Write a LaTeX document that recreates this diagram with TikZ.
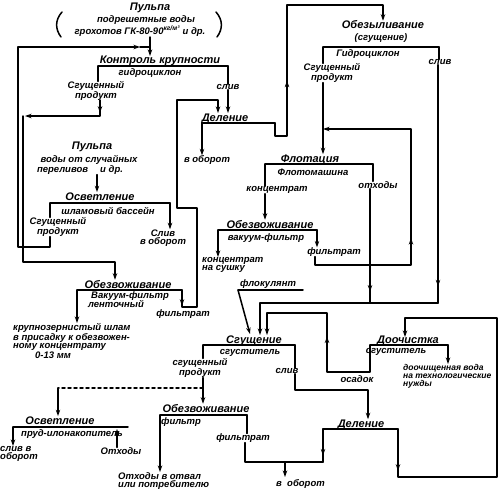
\documentclass[tikz,border=0pt]{standalone}
\usepackage{fontspec}
\setmainfont{Liberation Sans}
\usetikzlibrary{arrows.meta,decorations.markings}

\tikzset{
  flow/.style={line width=1.5pt},
  lbl/.style={font=\fontsize{9.5}{8.5}\selectfont\bfseries\itshape, inner sep=0pt, align=center},
  ttl/.style={font=\fontsize{11}{11}\selectfont\bfseries\itshape, inner sep=0pt},
  sml/.style={font=\fontsize{8.5}{8}\selectfont\bfseries\itshape, inner sep=0pt, align=left},
  arrat/.style={postaction={decorate},
    decoration={markings, mark=at position #1 with {\arrow{Stealth[length=6.5pt,width=4.5pt]}}}},
}

\begin{document}
\begin{tikzpicture}[x=1pt, y=-1pt, line join=round, line cap=round, >={Stealth[length=6.5pt,width=4.5pt]}]
  \useasboundingbox (0,0) rectangle (498,491);

  % feed
  \node[ttl] (pulpA) at (150,8) {Пульпа};
  \node[lbl] (pulpB) at (146,20) {подрешетные воды};
  \node[lbl] (pulpC) at (140,31) {грохотов ГК-80-90\textsuperscript{кг/м³} и др.};
  \draw[flow] (62,12) .. controls (55,20) and (55,29) .. (61,37);
  \draw[flow] (216,12) .. controls (223,20) and (223,29) .. (217,37);
  \coordinate (f0) at (150,37);
  \coordinate (f1) at (150,56);
  \draw[flow,->] (f0) -- (f1);

  % control of size
  \coordinate (kk1) at (98,66);
  \coordinate (kk2) at (228,66);
  \draw[flow] (kk1) -- (kk2);
  \node[ttl,anchor=base] (kkT) at (160,63) {Контроль крупности};
  \node[lbl] (kkH) at (150,73) {гидроциклон};
  \node[lbl] (kkS) at (96,91) {Сгущенный\\продукт};
  \node[lbl] (kkL) at (228,87) {слив};
  \draw[flow] (kk1) -- (kk1 |- kkS.north);
  \draw[flow] (kk2) -- (kkL.north);
  \coordinate (kkS0) at (100,100);
  \coordinate (kkS1) at (25,116);
  \draw[flow,->,arrat=0.14] (kkS0) -- (100,116) -- (kkS1);

  % division (top)
  \coordinate (de1) at (202,123);
  \coordinate (de2) at (275,123);
  \draw[flow] (de1) -- (de2);
  \node[ttl,anchor=base] (deT) at (225,121) {Деление};
  \node[lbl] (deO) at (207,160) {в оборот};
  \coordinate (deIn) at (218,113);
  \coordinate (kkIn) at (228,113);
  \draw[flow,->] (kkL.south) -- (kkIn);
  \draw[flow,->] (de1) -- (de1 |- deO.north);

  % desliming
  \node[ttl] (obT) at (383,25) {Обезыливание};
  \node[lbl] (obS) at (381,38) {(сгущение)};
  \coordinate (ob1) at (323,47);
  \coordinate (ob2) at (439,47);
  \draw[flow] (ob1) -- (ob2);
  \node[lbl] (obH) at (368,54) {Гидроциклон};
  \node[lbl] (obP) at (332,73) {Сгущенный\\продукт};
  \node[lbl] (obL) at (440,62) {слив};
  \draw[flow] (ob1) -- (ob1 |- obP.north);
  \draw[flow] (ob2) -- (obL.north -| ob2);
  \draw[flow,->,arrat=0.3] (de2) -- (275,136) -- (287,136) -- (287,5) -- (383,5) -- (obT.north);

  % flotation
  \coordinate (fl1) at (265,164);
  \coordinate (fl2) at (373,164);
  \draw[flow] (fl1) -- (fl2);
  \node[ttl,anchor=base] (flT) at (310,162) {Флотация};
  \node[lbl] (flH) at (313,172) {Флотомашина};
  \node[lbl] (flK) at (277,190) {концентрат};
  \node[lbl] (flO) at (378,185) {отходы};
  \draw[flow] (fl1) -- (fl1 |- flK.north);
  \draw[flow] (fl2) -- (fl2 |- flO.north);
  \draw[flow,->] (ob1 |- obP.south) -- (flT.north -| ob1);

  % vacuum filter
  \coordinate (vf1) at (218,230);
  \coordinate (vf2) at (317,230);
  \draw[flow] (vf1) -- (vf2);
  \node[ttl,anchor=base] (vfT) at (270,228) {Обезвоживание};
  \node[lbl] (vfH) at (266,238) {вакуум-фильтр};
  \node[lbl,align=left,anchor=north west] (vfK) at (202,257) {концентрат\\на сушку};
  \node[lbl] (vfF) at (334,252) {фильтрат};
  \draw[flow,->] (flK.south -| fl1) -- (vfT.north -| fl1);
  \draw[flow,->] (vf1) -- (vf1 |- vfK.north);
  \draw[flow,->] (vf2) -- (vf2 |- vfF.north);
  \coordinate (fiIn) at (323,129);
  \draw[flow,->,arrat=0.4] (vfF.south -| 315,0) -- (315,265) -- (411,265) -- (411,129) -- (fiIn);

  % collector to thickening
  \coordinate (c1) at (370,303);
  \coordinate (c2) at (438,303);
  \coordinate (th1) at (260,335);
  \draw[flow,arrat=0.93] (obL.south -| c2) -- (c2);
  \draw[flow,arrat=0.9] (flO.south -| c1) -- (c1);
  \draw[flow,->] (c2) -- (260,303) -- (th1);

  % flocculant
  \node[lbl] (flc) at (268,284) {флокулянт};
  \coordinate (fc1) at (238,290);
  \coordinate (fc2) at (303,290);
  \coordinate (fc3) at (250,334);
  \draw[flow] (fc1) -- (fc2);
  \draw[flow,->] (fc1) -- (fc3);

  % thickening
  \coordinate (sg1) at (203,345);
  \coordinate (sg2) at (295,345);
  \draw[flow] (sg1) -- (sg2);
  \node[ttl,anchor=base] (sgT) at (254,343) {Сгущение};
  \node[lbl] (sgH) at (250,353) {сгуститель};
  \node[lbl] (sgP) at (200,368) {сгущенный\\продукт};
  \node[lbl] (sgL) at (287,371) {слив};
  \draw[flow] (sg1) -- (sg1 |- sgP.north);
  \draw[flow] (sg2) -- (sg2 |- sgL.north);

  % final cleaning
  \coordinate (dc1) at (370,345);
  \coordinate (dc2) at (448,345);
  \draw[flow] (dc1) -- (dc2);
  \node[ttl,anchor=base] (dcT) at (408,343) {Доочистка};
  \node[lbl] (dcH) at (396,352) {сгуститель};
  \node[sml,anchor=north west] (dcW) at (403,364) {доочищенная вода\\на технологические\\нужды};
  \node[lbl] (dcO) at (357,379) {осадок};
  \draw[flow,->] (dc2) -- (dc2 |- dcW.north);
  \coordinate (th2) at (267,335);
  \draw[flow,->,arrat=0.5] (dc1) -- (370,372) -- (327,372) -- (327,313) -- (267,313) -- (th2);

  % division (bottom)
  \coordinate (dv1) at (323,429);
  \coordinate (dv2) at (398,429);
  \draw[flow] (dv1) -- (dv2);
  \node[ttl,anchor=base] (dvT) at (361,427) {Деление};
  \draw[flow,->] (sgL.south -| sg2) -- (295,390) -- (368,390) -- (dvT.north -| 368,0);
  \coordinate (dcIn) at (405,337);
  \draw[flow,->,arrat=0.1] (dv2) -- (398,477) -- (497,477) -- (497,318) -- (405,318) -- (dcIn);

  % dewatering filter (bottom)
  \coordinate (bd1) at (160,415);
  \coordinate (bd2) at (247,415);
  \draw[flow] (bd1) -- (bd2);
  \node[ttl,anchor=base] (bdT) at (206,412) {Обезвоживание};
  \node[lbl] (bdH) at (181,422) {фильтр};
  \node[lbl] (bdF) at (243,438) {фильтрат};
  \node[lbl,align=left,anchor=north west] (bdO) at (118,472) {Отходы в отвал\\или потребителю};
  \draw[flow] (bd2) -- (bd2 |- bdF.north);
  \draw[flow,->] (bd1) -- (bd1 |- bdO.north);
  \draw[flow,->] (sgP.south -| sg1) -- (bdT.north -| sg1);
  \coordinate (j1) at (245,462);
  \coordinate (j2) at (285,462);
  \draw[flow] (bdF.south -| j1) -- (j1) -- (323,462) -- (dv1);
  \draw[flow,arrat=0.8] (dv1) -- (323,462);
  \node[lbl] (rtA) at (279,484) {в};
  \node[lbl] (rtB) at (306,484) {оборот};
  \draw[flow,->] (j2) -- (285,477);

  % pond (bottom left)
  \coordinate (pd1) at (13,427);
  \coordinate (pd2) at (128,427);
  \draw[flow] (pd1) -- (pd2);
  \node[ttl,anchor=base] (pdT) at (60,424) {Осветление};
  \node[lbl] (pdH) at (72,434) {пруд-илонакопитель};
  \node[lbl,align=left,anchor=north west] (pdL) at (0,446) {слив в\\оборот};
  \node[lbl] (pdO) at (121,451) {Отходы};
  \draw[flow,->] (pd1) -- (pd1 |- pdL.north);
  \draw[flow,->] (pdO.north -| 117,0) -- (117,429);
  \coordinate (ds1) at (203,388);
  \coordinate (ds2) at (58,388);
  \draw[flow,dashed] (ds1) -- (ds2);
  \draw[flow,->] (ds2) -- (pdT.north -| ds2);

  % slime pool
  \node[ttl] (p2A) at (92,147) {Пульпа};
  \node[lbl] (p2B) at (89,160) {воды от случайных};
  \node[lbl] (p2C) at (80,170) {переливов \quad и др.};
  \coordinate (os1) at (50,203);
  \coordinate (os2) at (170,203);
  \draw[flow] (os1) -- (os2);
  \node[ttl,anchor=base] (osT) at (100,200) {Осветление};
  \node[lbl] (osH) at (108,211) {шламовый бассейн};
  \node[lbl] (osP) at (58,227) {Сгущенный\\продукт};
  \node[lbl] (osL) at (163,238) {Слив\\в оборот};
  \draw[flow,->] (p2C.south -| 97,0) -- (osT.north -| 97,0);
  \draw[flow] (os1) -- (os1 |- osP.north);
  \draw[flow,->] (os2) -- (os2 |- osL.north);
  \draw[flow,->] (osP.south -| os1) -- (50,247) -- (18,247) -- (18,47) -- (140,47);
  \draw[flow] (140,47) -- (f0 |- 0,47);

  % belt vacuum filter
  \coordinate (bf1) at (77,290);
  \coordinate (bf2) at (182,290);
  \draw[flow] (bf1) -- (bf2);
  \node[ttl,anchor=base] (bfT) at (128,288) {Обезвоживание};
  \node[lbl] (bfH) at (130,296) {Вакуум-фильтр};
  \node[lbl] (bfH2) at (116,304) {ленточный};
  \node[lbl,align=left,anchor=north west] (bfK) at (13,323) {крупнозернистый шлам\\в присадку к обезвожен-\\ному концентрату\\\hspace*{22pt}0-13 мм};
  \node[lbl] (bfF) at (183,314) {фильтрат};
  \draw[flow,->] (bf1) -- (bf1 |- bfK.north);
  \draw[flow,->] (kkS1 -| 23,0) -- (23,262) -- (115,262) -- (bfT.north -| 115,0);
  \draw[flow,->,arrat=0.05] (bf2) -- (182,307) -- (197,307) -- (197,208) -- (177,208) -- (177,100) -- (218,100) -- (deIn);
\end{tikzpicture}
\end{document}
